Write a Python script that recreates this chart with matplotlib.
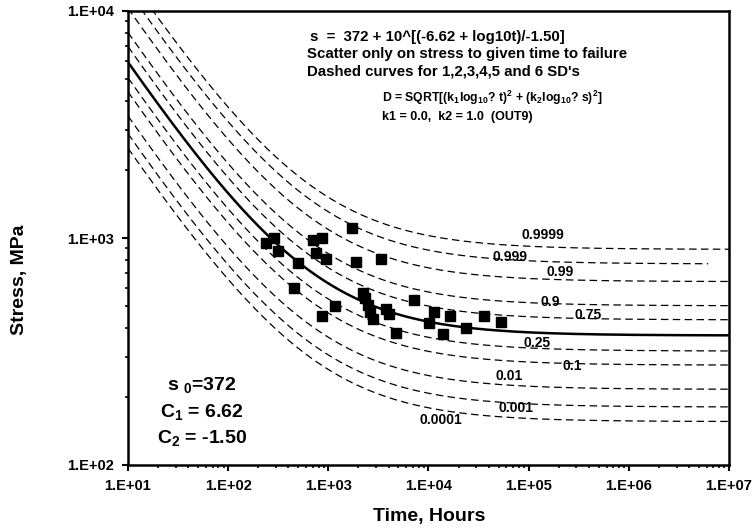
import numpy as np
import matplotlib
matplotlib.use('Agg')
import matplotlib.pyplot as plt
from matplotlib.ticker import LogLocator, FuncFormatter, NullFormatter
from statistics import NormalDist

# Model parameters (from chart annotation)
s0 = 372.0
C1 = 6.62
C2 = -1.50
sigma_log = 0.102  # SD of log10(stress)

# Probability levels of dashed curves
probabilities = [0.9999, 0.999, 0.99, 0.9, 0.75, 0.25, 0.1, 0.01, 0.001, 0.0001]
prob_labels = ['0.9999', '0.999', '0.99', '0.9', '0.75', '0.25', '0.1', '0.01', '0.001', '0.0001']
curve_end_time = [1e7, 6.2e6, 1e7, 1e7, 1e7, 1e7, 1e7, 1e7, 1e7, 1e7]
label_time = [138000, 64600, 204000, 166000, 389000, 120000, 275000, 63100, 74100, 13200]
label_stress = [1031, 825, 708, 523, 458, 345, 273, 247, 178, 158]

# Test data
time_hours = [238, 288, 318, 498, 450, 703, 865, 759, 955, 1726, 1875, 3334,
              865, 1175, 2223, 2344, 2494, 2630, 2773, 3776, 4009, 4786,
              7129, 11300, 10160, 16330, 13900, 23820, 35730, 52480]
stress_mpa = [953, 1003, 879, 774, 604, 980, 1003, 856, 806, 1104, 786, 806,
              455, 503, 574, 543, 507, 474, 440, 487, 463, 383,
              533, 474, 421, 453, 378, 402, 453, 428]

FONT = 'Liberation Sans'
plt.rcParams['font.family'] = [FONT, 'DejaVu Sans']
plt.rcParams['font.weight'] = 'bold'
plt.rcParams['mathtext.fontset'] = 'custom'
plt.rcParams['mathtext.rm'] = 'Liberation Sans:bold'
plt.rcParams['mathtext.it'] = 'Liberation Sans:bold'
plt.rcParams['mathtext.bf'] = 'Liberation Sans:bold'

W, H = 753, 531
fig = plt.figure(figsize=(W / 100, H / 100), dpi=100)
ax = fig.add_axes([128 / W, 66 / H, 601 / W, 454 / H])


def mean_stress(t):
    return s0 + 10 ** ((-C1 + np.log10(t)) / C2)


t_all = np.logspace(1, 7, 600)
ax.plot(t_all, mean_stress(t_all), color='black', lw=1.8, zorder=3)

nd = NormalDist()
for p, tend in zip(probabilities, curve_end_time):
    z = nd.inv_cdf(p)
    t = np.logspace(1, np.log10(tend), 600)
    s = mean_stress(t) * 10 ** (z * sigma_log)
    ax.plot(t, s, color='black', lw=0.9, dashes=(6, 3.5), zorder=2)

for lab, lt, ls in zip(prob_labels, label_time, label_stress):
    ax.text(lt, ls, lab, fontsize=10, fontweight='bold', ha='center', va='center', zorder=4)

ax.plot(time_hours, stress_mpa, linestyle='none', marker='s', ms=7.5,
        color='black', zorder=5)

ax.set_xscale('log')
ax.set_yscale('log')
ax.set_xlim(1e1, 1e7)
ax.set_ylim(1e2, 1e4)

fmt = FuncFormatter(lambda v, pos: "1.E+%02d" % int(round(np.log10(v))))
ax.xaxis.set_major_locator(LogLocator(base=10, numticks=20))
ax.yaxis.set_major_locator(LogLocator(base=10, numticks=20))
ax.xaxis.set_minor_locator(LogLocator(base=10, subs=np.arange(2, 10), numticks=20))
ax.yaxis.set_minor_locator(LogLocator(base=10, subs=np.arange(2, 10), numticks=20))
ax.xaxis.set_major_formatter(fmt)
ax.yaxis.set_major_formatter(fmt)
ax.xaxis.set_minor_formatter(NullFormatter())
ax.yaxis.set_minor_formatter(NullFormatter())
ax.tick_params(which='major', direction='out', length=4, width=1.5, labelsize=10.5, pad=6)
ax.tick_params(which='minor', direction='out', length=2.5, width=1.2)
for lab in ax.get_xticklabels() + ax.get_yticklabels():
    lab.set_fontweight('bold')
for sp in ax.spines.values():
    sp.set_linewidth(1.8)

fig.text(429 / W, 1 - 517 / H, 'Time, Hours', fontsize=14, fontweight='bold',
         ha='center', va='center')
fig.text(20 / W, 1 - 280 / H, 'Stress, MPa', fontsize=14, fontweight='bold',
         ha='center', va='center', rotation=90)

# Header annotations
fig.text(310 / W, 1 - 37 / H, 's  =  372 + 10^[(-6.62 + log10t)/-1.50]',
         fontsize=10.8, fontweight='bold', ha='left', va='center')
fig.text(307 / W, 1 - 54 / H, 'Scatter only on stress to given time to failure',
         fontsize=10.8, fontweight='bold', ha='left', va='center')
fig.text(307 / W, 1 - 72 / H, "Dashed curves for 1,2,3,4,5 and 6 SD's",
         fontsize=10.8, fontweight='bold', ha='left', va='center')
fig.text(382 / W, 1 - 98 / H,
         r'D = SQRT[(k$_1$log$_{10}$? t)$^2$ + (k$_2$log$_{10}$? s)$^2$]',
         fontsize=8.8, fontweight='bold', ha='left', va='center')
fig.text(382 / W, 1 - 117 / H, 'k1 = 0.0,  k2 = 1.0  (OUT9)',
         fontsize=9, fontweight='bold', ha='left', va='center')

# Parameter block
fig.text(202 / W, 1 - 385 / H, r's $_0$=372', fontsize=14, fontweight='bold',
         ha='center', va='center')
fig.text(202 / W, 1 - 412 / H, r'C$_1$ = 6.62', fontsize=14, fontweight='bold',
         ha='center', va='center')
fig.text(202 / W, 1 - 438 / H, r'C$_2$ = -1.50', fontsize=14, fontweight='bold',
         ha='center', va='center')

fig.savefig('out.png', dpi=100)
